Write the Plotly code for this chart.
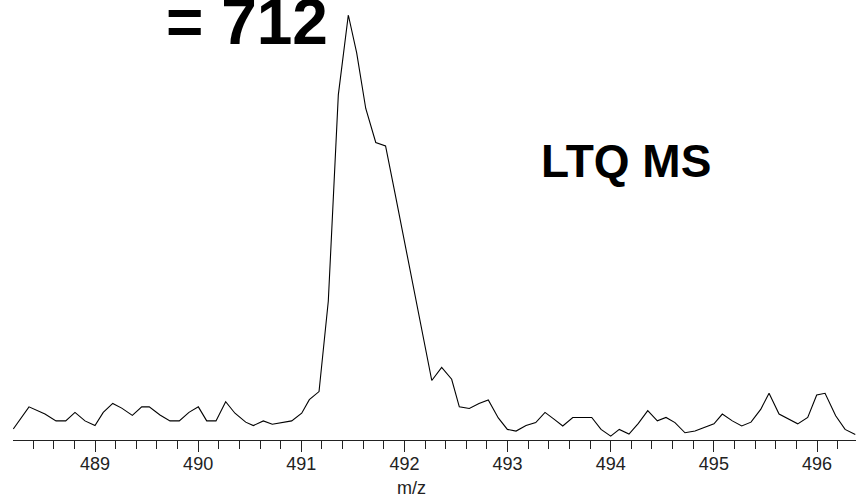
import plotly.graph_objects as go

# m/z values and relative intensity (%)
mz = [488.208, 488.360, 488.515, 488.622, 488.716, 488.806, 488.903, 489.000, 489.080, 489.172,
      489.259, 489.362, 489.453, 489.526, 489.630, 489.727, 489.817, 489.911, 490.002, 490.083,
      490.173, 490.267, 490.357, 490.461, 490.535, 490.632, 490.719, 490.816, 490.907, 491.004,
      491.078, 491.172, 491.262, 491.359, 491.456, 491.537, 491.625, 491.722, 491.817, 491.914,
      492.006, 492.093, 492.180, 492.265, 492.361, 492.458, 492.532, 492.629, 492.723, 492.813,
      492.910, 492.998, 493.082, 493.179, 493.273, 493.363, 493.450, 493.535, 493.632, 493.722,
      493.816, 493.906, 494.000, 494.083, 494.177, 494.268, 494.359, 494.452, 494.536, 494.623,
      494.720, 494.817, 494.914, 495.001, 495.082, 495.179, 495.270, 495.360, 495.454, 495.535,
      495.632, 495.722, 495.813, 495.910, 495.997, 496.078, 496.181, 496.272, 496.371]
intensity = [2.6, 7.8, 6.1, 4.5, 4.5, 6.5, 4.5, 3.4, 6.5, 8.6,
             7.5, 5.8, 7.8, 7.8, 5.9, 4.5, 4.5, 6.5, 7.8, 4.5,
             4.5, 9.0, 6.3, 4.2, 3.4, 4.5, 3.7, 4.1, 4.5, 6.3,
             9.5, 11.4, 32.7, 81.2, 100.0, 91.1, 78.0, 70.0, 69.2, 57.4,
             46.1, 35.1, 24.7, 14.0, 17.1, 14.3, 7.8, 7.4, 8.6, 9.4,
             5.2, 2.5, 2.1, 3.4, 4.1, 6.5, 4.9, 3.3, 5.3, 5.3,
             5.3, 2.5, 0.9, 2.5, 1.4, 3.9, 6.9, 4.5, 5.3, 4.1,
             1.7, 2.1, 3.0, 3.8, 6.1, 4.5, 3.3, 4.2, 7.2, 11.0,
             6.1, 4.9, 3.8, 5.3, 10.6, 11.0, 5.7, 2.5, 1.3]

tick_vals = [489, 490, 491, 492, 493, 494, 495, 496]
tick_text = ["489", "490", "491", "492", "493", "494", "495", "496"]
x_title = "m/z"
label_instrument = "LTQ MS"
label_value = "= 712"

FONT = "Liberation Sans, Arial, Helvetica, sans-serif"

fig = go.Figure()
fig.add_trace(go.Scatter(x=mz, y=intensity, mode="lines",
                         line=dict(color="black", width=1.1),
                         hoverinfo="skip", showlegend=False))

fig.update_layout(
    width=856, height=496,
    margin=dict(l=13, r=0, t=0, b=56),
    paper_bgcolor="white", plot_bgcolor="white",
    font=dict(family=FONT, color="black"),
    showlegend=False,
    xaxis=dict(
        range=[488.205, 496.378],
        tickmode="array", tickvals=tick_vals, ticktext=tick_text,
        ticks="outside", ticklen=11, tickwidth=1, tickcolor="#222",
        ticklabelstandoff=-4,
        showline=True, linecolor="#222", linewidth=1,
        showgrid=False, zeroline=False,
        tickfont=dict(family=FONT, size=18, color="#222"),
        minor=dict(tick0=489, dtick=0.2, ticks="outside", ticklen=8,
                   tickwidth=1, tickcolor="#222", showgrid=False),
        fixedrange=True,
    ),
    yaxis=dict(range=[0, 103.53], visible=False, showgrid=False,
               zeroline=False, fixedrange=True),
    annotations=[
        dict(x=492.07, xref="x", y=-0.109, yref="paper", text=x_title,
             showarrow=False, xanchor="center", yanchor="middle",
             font=dict(family=FONT, size=18, color="#222")),
        dict(x=494.148, xref="x", y=65.6, yref="y", text="<b>" + label_instrument + "</b>",
             showarrow=False, xanchor="center", yanchor="middle",
             font=dict(family=FONT, size=46, color="black")),
        dict(x=490.471, xref="x", y=98.4, yref="y", text="<b>" + label_value + "</b>",
             showarrow=False, xanchor="center", yanchor="middle",
             font=dict(family=FONT, size=64, color="black")),
    ],
)

fig.write_html("out.html", config={"displayModeBar": False},
               post_script="document.body.style.margin='0';")
